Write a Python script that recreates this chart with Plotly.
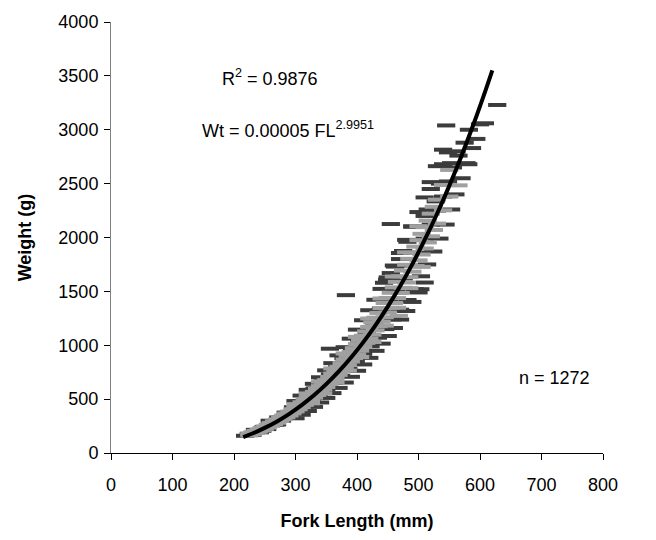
import plotly.graph_objects as go

# ---- data ----
dark_fl = [218, 224, 230, 236, 242, 248, 254, 260, 266, 272, 278, 284, 290, 296, 302, 308, 314, 320, 326, 332,
           338, 344, 350, 356, 356, 362, 368, 374, 380, 382, 386, 392, 398, 404, 410, 416, 422, 428, 434, 440,
           446, 452, 455, 458, 464, 470, 476, 482, 488, 494, 500, 504, 510, 514, 520, 524, 530, 534, 540, 544,
           548, 553, 556, 560, 565, 570, 575, 578, 582, 587, 594, 600, 545, 548, 562, 540, 553, 581, 628, 608,
           535, 520, 528, 515, 510, 490, 482, 475, 470, 462, 455, 449, 444, 439, 503,
           234, 246, 258, 270, 282, 294, 306, 318, 330, 342, 354, 366, 378, 390,
           300, 310, 320, 330, 340, 350, 360, 370, 380, 390, 400, 410, 420, 430, 440, 450, 460, 470, 480, 490,
           500, 510,
           300, 310, 320, 330, 340, 350, 360, 370, 380, 390, 400, 410, 420, 430, 440, 450, 460, 470, 480, 490,
           500, 510, 520, 530, 540]
dark_wt = [160, 178, 168, 200, 192, 240, 222, 285, 262, 330, 300, 375, 340, 425, 385, 480, 430, 540, 480, 600,
           535, 665, 590, 968, 730, 650, 800, 715, 875, 1465, 780, 950, 850, 1030, 920, 1120, 990, 1210, 1070, 1310,
           1150, 1410, 2125, 1240, 1510, 1330, 1620, 1420, 1740, 1520, 1860, 1640, 1990, 1750, 2120, 1870, 2250, 1990, 2380, 2120,
           2520, 2260, 2650, 2400, 2760, 2550, 2880, 2690, 3000, 2830, 2915, 3050, 3040, 2790, 2800, 2680, 2690, 2680, 3230, 3060,
           2500, 2450, 2335, 2260, 2200, 2100, 1960, 1875, 1800, 1730, 1670, 1610, 1580, 1340, 1520,
           215, 205, 300, 265, 340, 380, 440, 470, 590, 560, 690, 730, 880, 850,
           322, 355, 390, 428, 469, 511, 556, 604, 654, 707, 763, 822, 883, 948, 1015, 1086, 1160, 1238, 1318, 1402,
           1490, 1582,
           482, 533, 586, 642, 703, 767, 834, 906, 982, 1061, 1145, 1232, 1325, 1422, 1523, 1630, 1740, 1856, 1978, 2104,
           2236, 2372, 2514, 2662, 2815]

light_fl = [225, 230, 235, 240, 245, 250, 255, 260, 265, 270, 275, 280, 285, 290, 295, 300, 305, 310, 315, 320,
            325, 330, 335, 340, 345, 350, 355, 360, 365, 370, 375, 380, 385, 390, 395, 400, 405, 410, 415, 420,
            425, 430, 435, 440, 445, 450, 455, 460, 465, 470, 475, 480, 485, 490, 495, 500, 505, 510, 515, 520,
            525, 530, 540, 550,
            225, 230, 235, 240, 245, 250, 255, 260, 265, 270, 275, 280, 285, 290, 295, 300, 305, 310, 315, 320,
            325, 330, 335, 340, 345, 350, 355, 360, 365, 370, 375, 380, 385, 390, 395, 400, 405, 410, 415, 420,
            425, 430, 435, 440, 445, 450, 455, 460, 465, 470, 475, 480, 485, 490, 495, 500, 505, 510, 515, 520,
            525, 530, 540, 550,
            300, 320, 340, 360, 380, 400, 420, 440, 460, 480, 500,
            325, 345, 365, 385, 405, 425, 445, 465, 485, 505,
            468, 565]
light_wt = [180, 192, 205, 218, 232, 247, 262, 278, 294, 311, 329, 347, 366, 385, 406, 426, 448, 471, 494, 517,
            543, 567, 594, 621, 649, 677, 707, 737, 769, 800, 833, 867, 901, 937, 973, 1011, 1049, 1089, 1129, 1170,
            1213, 1256, 1300, 1345, 1392, 1439, 1487, 1537, 1588, 1640, 1693, 1747, 1802, 1858, 1915, 1975, 2034, 2096, 2157, 2221,
            2285, 2351, 2487, 2627,
            163, 174, 185, 198, 210, 224, 237, 252, 266, 281, 298, 314, 331, 348, 368, 386, 406, 426, 447, 468,
            492, 514, 538, 563, 588, 613, 640, 667, 696, 725, 755, 785, 816, 849, 881, 916, 950, 986, 1022, 1060,
            1098, 1138, 1177, 1218, 1260, 1304, 1347, 1392, 1438, 1485, 1533, 1582, 1632, 1683, 1735, 1788, 1842, 1898, 1954, 2011,
            2070, 2129, 2252, 2380,
            454, 551, 662, 785, 924, 1078, 1248, 1434, 1638, 1862, 2105,
            461, 551, 652, 765, 891, 1030, 1182, 1348, 1530, 1727,
            1273, 2484]

curve_fl = [215, 230, 250, 270, 290, 310, 330, 350, 370, 390, 410, 430, 450, 470, 490, 510, 530, 550, 570, 590, 610, 620]
curve_wt = [148, 181, 233, 293, 363, 444, 535, 639, 755, 884, 1027, 1185, 1358, 1547, 1753, 1977, 2218, 2479, 2759, 3060, 3382, 3551]

x_ticks = [0, 100, 200, 300, 400, 500, 600, 700, 800]
y_ticks = [0, 500, 1000, 1500, 2000, 2500, 3000, 3500, 4000]

FONT = "Liberation Sans, Arial, sans-serif"

fig = go.Figure()
fig.add_trace(go.Scatter(x=dark_fl, y=dark_wt, mode="markers",
                         marker=dict(symbol="line-ew", size=13, line=dict(width=4, color="#3c3c3c")),
                         showlegend=False, hoverinfo="skip"))
fig.add_trace(go.Scatter(x=light_fl, y=light_wt, mode="markers",
                         marker=dict(symbol="line-ew", size=13, line=dict(width=4, color="#a0a0a0")),
                         showlegend=False, hoverinfo="skip"))
fig.add_trace(go.Scatter(x=curve_fl, y=curve_wt, mode="lines",
                         line=dict(color="#000000", width=4, shape="spline"),
                         showlegend=False, hoverinfo="skip"))

ann_font = dict(family=FONT, size=18, color="#000000")

fig.update_layout(
    width=656, height=540,
    margin=dict(l=111, r=53, t=19, b=87),
    paper_bgcolor="white", plot_bgcolor="white",
    font=dict(family=FONT, size=18, color="#000000"),
    xaxis=dict(range=[0, 800], tickvals=x_ticks, ticks="outside", ticklen=6, tickcolor="#000000",
               showline=True, linecolor="#000000", linewidth=1, showgrid=False, zeroline=False,
               tickfont=dict(family=FONT, size=18), ticklabelstandoff=9,
               title=dict(text="<b>Fork Length (mm)</b>", font=dict(family=FONT, size=18), standoff=20)),
    yaxis=dict(range=[0, 4000], tickvals=y_ticks, ticks="outside", ticklen=6, tickcolor="#000000",
               showline=True, linecolor="#808080", linewidth=1, showgrid=False, zeroline=False,
               tickfont=dict(family=FONT, size=18), ticklabelstandoff=2,
               title=dict(text="<b>Weight (g)</b>", font=dict(family=FONT, size=18), standoff=22)),
    annotations=[
        dict(x=0.323, y=0.871, xref="paper", yref="paper", xanchor="center", yanchor="middle",
             text="R<sup>2</sup> = 0.9876", showarrow=False, font=ann_font),
        dict(x=0.360, y=0.751, xref="paper", yref="paper", xanchor="center", yanchor="middle",
             text="Wt = 0.00005 FL<sup>2.9951</sup>", showarrow=False, font=ann_font),
        dict(x=0.902, y=0.173, xref="paper", yref="paper", xanchor="center", yanchor="middle",
             text="n = 1272", showarrow=False, font=ann_font),
    ],
)

fig.write_html("out.html")
